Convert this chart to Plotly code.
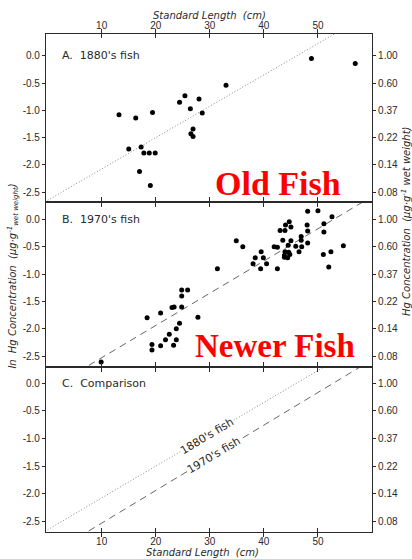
import plotly.graph_objects as go
import numpy as np

# Standard length (cm) and ln Hg concentration, 1880's specimens
len_1880 = [13.2, 16.3, 19.4, 24.4, 25.4, 28.0, 26.4, 28.6, 26.9, 26.5, 26.9,
            15.0, 17.3, 17.8, 18.8, 19.9, 17.0, 19.0, 33.0, 48.8, 56.9]
lnhg_1880 = [-1.08, -1.14, -1.04, -0.85, -0.73, -0.79, -0.97, -1.05, -1.34, -1.43, -1.48,
             -1.71, -1.67, -1.78, -1.78, -1.78, -2.12, -2.38, -0.54, -0.05, -0.14]

# Standard length (cm) and ln Hg concentration, 1970's specimens
len_1970 = [9.9, 18.4, 19.3, 19.3, 20.9, 20.9, 21.8, 22.5, 23.0, 23.4, 23.3, 23.8,
            23.8, 24.4, 24.8, 24.8, 24.8, 25.9, 27.8, 31.4,
            34.9, 36.1, 48.1, 50.0, 52.6, 44.7, 44.0, 45.0, 43.0, 43.9, 48.0, 51.1,
            51.1, 48.1, 46.9, 43.5, 45.0, 46.9, 48.1, 54.7, 44.5, 41.9, 42.5, 45.9,
            47.0, 39.5, 43.9, 44.6, 46.5, 52.4, 43.8, 44.8, 44.4, 43.8, 38.4, 39.9,
            51.0, 38.0, 40.5, 39.4, 42.5, 52.0]
lnhg_1970 = [-2.61, -1.80, -2.29, -2.39, -1.71, -2.31, -2.20, -2.10, -1.61, -1.60, -2.30, -2.20,
             -2.00, -1.90, -1.60, -1.40, -1.29, -1.29, -1.79, -0.90,
             -0.39, -0.50, 0.15, 0.16, 0.05, -0.04, -0.10, -0.14, -0.20, -0.20, -0.10, -0.08,
             -0.23, -0.21, -0.31, -0.38, -0.39, -0.38, -0.43, -0.48, -0.47, -0.50, -0.51, -0.49,
             -0.50, -0.59, -0.59, -0.60, -0.59, -0.59, -0.66, -0.64, -0.70, -0.69, -0.70, -0.70,
             -0.64, -0.81, -0.81, -0.90, -0.90, -0.87]

# Regression lines: (intercept, slope) of ln Hg on length
fit_1880 = (-2.65, 0.0575)
fit_1970 = (-3.12, 0.059)
fit_span = [0.0, 60.0]

ln_ticks = [0.0, -0.5, -1.0, -1.5, -2.0, -2.5]
ln_ticktext = ["0.0", "-0.5", "-1.0", "-1.5", "-2.0", "-2.5"]
conc_ticktext = ["1.00", "0.60", "0.37", "0.22", "0.14", "0.08"]
len_ticks = [10, 20, 30, 40, 50]

INK = "#2a2a2a"
FONT = "DejaVu Sans"
TICK_FONT = "Liberation Sans"


def fit_y(fit, xs):
    return [fit[0] + fit[1] * x for x in xs]


fig = go.Figure()

# Panel A: 1880's fish
fig.add_trace(go.Scatter(x=fit_span, y=fit_y(fit_1880, fit_span), mode="lines",
                         line=dict(color="#888", width=1, dash="1px,2px"),
                         xaxis="x3", yaxis="y", hoverinfo="skip"))
fig.add_trace(go.Scatter(x=len_1880, y=lnhg_1880, mode="markers",
                         marker=dict(color="black", size=5),
                         xaxis="x3", yaxis="y"))

# Panel B: 1970's fish
fig.add_trace(go.Scatter(x=fit_span, y=fit_y(fit_1970, fit_span), mode="lines",
                         line=dict(color="#666", width=1, dash="7px,5px"),
                         xaxis="x2", yaxis="y2", hoverinfo="skip"))
fig.add_trace(go.Scatter(x=len_1970, y=lnhg_1970, mode="markers",
                         marker=dict(color="black", size=5),
                         xaxis="x2", yaxis="y2"))

# Panel C: comparison of the two fits
fig.add_trace(go.Scatter(x=fit_span, y=fit_y(fit_1880, fit_span), mode="lines",
                         line=dict(color="#888", width=1, dash="1px,2px"),
                         xaxis="x", yaxis="y3", hoverinfo="skip"))
fig.add_trace(go.Scatter(x=fit_span, y=fit_y(fit_1970, fit_span), mode="lines",
                         line=dict(color="#666", width=1, dash="7px,5px"),
                         xaxis="x", yaxis="y3", hoverinfo="skip"))

# Empty traces so the right-hand concentration axes get drawn
for xa, ya in (("x3", "y4"), ("x2", "y5"), ("x", "y6")):
    fig.add_trace(go.Scatter(x=[None], y=[None], mode="markers", xaxis=xa, yaxis=ya,
                             hoverinfo="skip"))

xr = [-0.3, 60.0]
ranges = {"y": [-2.68, 0.40], "y2": [-2.70, 0.32], "y3": [-2.69, 0.29]}
domains = {"y": [0.6627, 1.0], "y2": [0.3313, 0.6627], "y3": [0.0, 0.3313]}

tickfont = dict(family=TICK_FONT, size=10, color=INK)
xcommon = dict(range=xr, tickvals=len_ticks, ticks="inside", ticklen=4,
               tickcolor=INK, showline=True, linecolor=INK, linewidth=1.2,
               mirror="allticks", showgrid=False, zeroline=False, tickfont=tickfont,
               ticklabelstandoff=0)
ycommon = dict(tickvals=ln_ticks, ticks="outside", ticklen=3, tickcolor=INK,
               showline=True, linecolor=INK, linewidth=1.2, mirror=True,
               showgrid=False, zeroline=False, tickfont=tickfont)
rcommon = dict(tickvals=ln_ticks, ticktext=conc_ticktext, ticks="outside", ticklen=3,
               tickcolor=INK, showline=True, linecolor=INK, linewidth=1.2,
               side="right", showgrid=False, zeroline=False, tickfont=tickfont)

fig.update_layout(
    width=412, height=559,
    margin=dict(l=46, r=40, t=34, b=24),
    paper_bgcolor="white", plot_bgcolor="white",
    showlegend=False,
    xaxis=dict(anchor="y3", **xcommon),
    xaxis2=dict(anchor="y2", matches="x", showticklabels=False, **xcommon),
    xaxis3=dict(anchor="y", matches="x", side="top", **xcommon),
    yaxis=dict(anchor="x3", domain=domains["y"], range=ranges["y"], ticktext=ln_ticktext, **ycommon),
    yaxis2=dict(anchor="x2", domain=domains["y2"], range=ranges["y2"], ticktext=ln_ticktext, **ycommon),
    yaxis3=dict(anchor="x", domain=domains["y3"], range=ranges["y3"], ticktext=ln_ticktext, **ycommon),
    yaxis4=dict(overlaying="y", anchor="x3", range=ranges["y"], **rcommon),
    yaxis5=dict(overlaying="y2", anchor="x2", range=ranges["y2"], **rcommon),
    yaxis6=dict(overlaying="y3", anchor="x", range=ranges["y3"], **rcommon),
)

label_font = dict(family=FONT, size=11, color=INK)
italic_font = dict(family=FONT, size=10, color=INK)
annotations = [
    dict(text="A.  1880's fish", x=2.2, y=0.0, xref="x3", yref="y",
         xanchor="left", yanchor="middle", showarrow=False, font=label_font),
    dict(text="B.  1970's fish", x=2.2, y=0.0, xref="x2", yref="y2",
         xanchor="left", yanchor="middle", showarrow=False, font=label_font),
    dict(text="C.  Comparison", x=2.2, y=0.0, xref="x", yref="y3",
         xanchor="left", yanchor="middle", showarrow=False, font=label_font),
    dict(text="1880's fish", x=29.4, y=fit_y(fit_1880, [29.4])[0], xref="x", yref="y3",
         textangle=-31, showarrow=False, bgcolor="white", borderpad=0, font=label_font),
    dict(text="1970's fish", x=30.7, y=fit_y(fit_1970, [30.7])[0], xref="x", yref="y3",
         textangle=-31, showarrow=False, bgcolor="white", borderpad=0, font=label_font),
    dict(text="<i>Standard Length  (cm)</i>", x=0.503, y=1.038, xref="paper", yref="paper",
         xanchor="center", yanchor="middle", showarrow=False, font=italic_font),
    dict(text="<i>Standard Length  (cm)</i>", x=0.48, y=-0.041, xref="paper", yref="paper",
         xanchor="center", yanchor="middle", showarrow=False, font=italic_font),
    dict(text="<i>ln  Hg Concentration  (μg·g<sup>-1</sup><sub>wet weight</sub>)</i>",
         x=-0.104, y=0.513, xref="paper", yref="paper", textangle=-90,
         xanchor="center", yanchor="middle", showarrow=False, font=italic_font),
    dict(text="<i>Hg Concentration  (μg·g<sup>-1</sup> wet weight)</i>",
         x=1.102, y=0.625, xref="paper", yref="paper", textangle=-90,
         xanchor="center", yanchor="middle", showarrow=False, font=italic_font),
    dict(text="<b>Old Fish</b>", x=42.6, y=-2.35, xref="x3", yref="y",
         xanchor="center", yanchor="middle", showarrow=False,
         font=dict(family="Liberation Serif", size=34, color="#ff0000")),
    dict(text="<b>Newer Fish</b>", x=42.1, y=-2.32, xref="x2", yref="y2",
         xanchor="center", yanchor="middle", showarrow=False,
         font=dict(family="Liberation Serif", size=33, color="#ff0000")),
]
fig.update_layout(annotations=annotations)

fig.write_html("out.html")
